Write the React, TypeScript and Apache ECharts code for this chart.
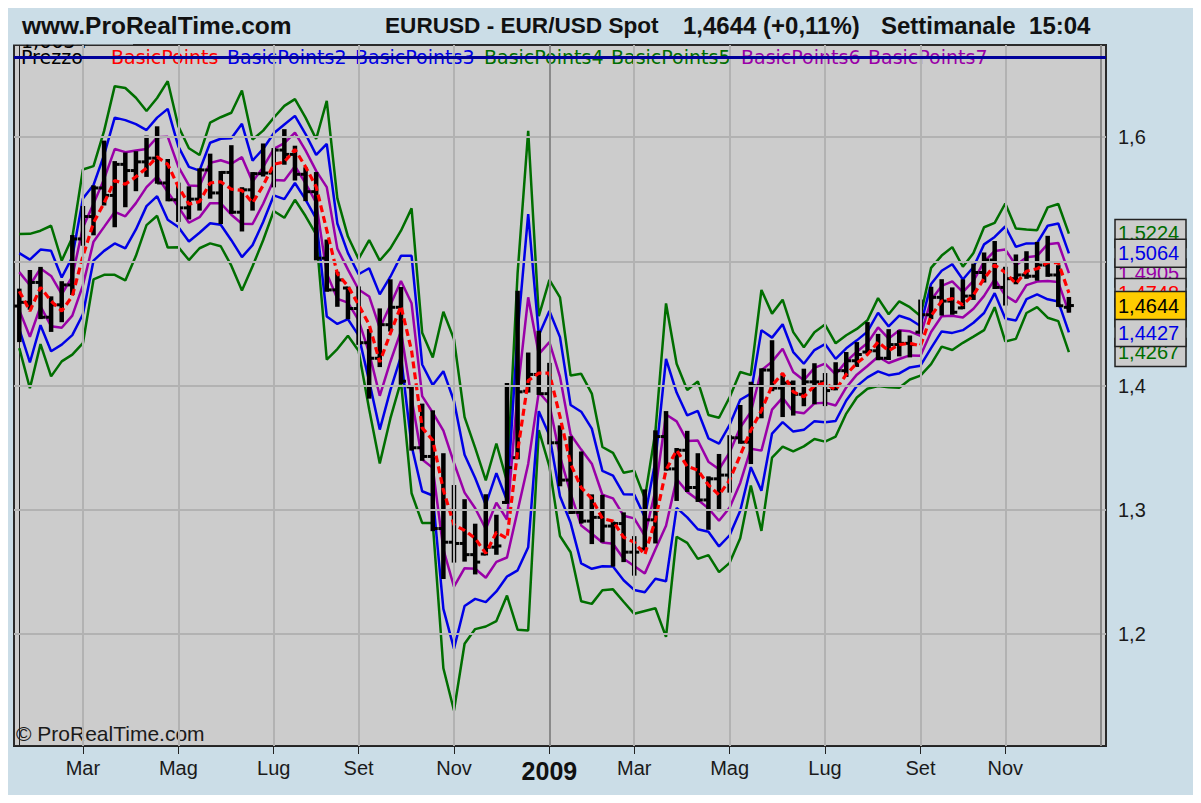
import React, { useEffect, useRef } from 'react';
import * as echarts from 'echarts';

// Weekly bars (week start, Monday)
const weeks: string[] = [
  '2008-01-21','2008-01-28','2008-02-04','2008-02-11','2008-02-18','2008-02-25','2008-03-03','2008-03-10','2008-03-17','2008-03-24',
  '2008-03-31','2008-04-07','2008-04-14','2008-04-21','2008-04-28','2008-05-05','2008-05-12','2008-05-19','2008-05-26','2008-06-02',
  '2008-06-09','2008-06-16','2008-06-23','2008-06-30','2008-07-07','2008-07-14','2008-07-21','2008-07-28','2008-08-04','2008-08-11',
  '2008-08-18','2008-08-25','2008-09-01','2008-09-08','2008-09-15','2008-09-22','2008-09-29','2008-10-06','2008-10-13','2008-10-20',
  '2008-10-27','2008-11-03','2008-11-10','2008-11-17','2008-11-24','2008-12-01','2008-12-08','2008-12-15','2008-12-22','2008-12-29',
  '2009-01-05','2009-01-12','2009-01-19','2009-01-26','2009-02-02','2009-02-09','2009-02-16','2009-02-23','2009-03-02','2009-03-09',
  '2009-03-16','2009-03-23','2009-03-30','2009-04-06','2009-04-13','2009-04-20','2009-04-27','2009-05-04','2009-05-11','2009-05-18',
  '2009-05-25','2009-06-01','2009-06-08','2009-06-15','2009-06-22','2009-06-29','2009-07-06','2009-07-13','2009-07-20','2009-07-27',
  '2009-08-03','2009-08-10','2009-08-17','2009-08-24','2009-08-31','2009-09-07','2009-09-14','2009-09-21','2009-09-28','2009-10-05',
  '2009-10-12','2009-10-19','2009-10-26','2009-11-02','2009-11-09','2009-11-16','2009-11-23','2009-11-30','2009-12-07','2009-12-14',
];

const open: number[] = [
  1.4640,1.4670,1.4830,1.4550,1.4650,1.4810,1.5180,1.5360,1.5590,1.5530,
  1.5780,1.5730,1.5800,1.5830,1.5630,1.5495,1.5430,1.5500,1.5735,1.5550,
  1.5715,1.5395,1.5575,1.5705,1.5710,1.5895,1.5860,1.5700,1.5560,1.5025,
  1.4770,1.4785,1.4620,1.4345,1.4220,1.4490,1.4630,1.3990,1.3500,1.3430,
  1.2850,1.2740,1.2730,1.2640,1.2645,1.2700,1.3060,1.3420,1.3955,1.4090,
  1.3935,1.3540,1.3240,1.2980,1.2910,1.2940,1.2870,1.2890,1.2660,1.2685,
  1.2920,1.3590,1.3330,1.3480,1.3180,1.3080,1.3250,1.3280,1.3580,1.3545,
  1.4000,1.4125,1.3980,1.4020,1.3930,1.4030,1.4030,1.3975,1.4120,1.4200,
  1.4270,1.4280,1.4220,1.4330,1.4340,1.4430,1.4570,1.4710,1.4680,1.4625,
  1.4720,1.4910,1.5010,1.4790,1.4860,1.4890,1.4880,1.4970,1.4890,1.4630,
];
const high: number[] = [
  1.4772,1.4922,1.4947,1.4710,1.4832,1.5203,1.5437,1.5603,1.5963,1.5798,
  1.5867,1.5878,1.6003,1.6078,1.5815,1.5625,1.5595,1.5740,1.5858,1.5718,
  1.5926,1.5588,1.5710,1.5940,1.5903,1.6055,1.5922,1.5748,1.5710,1.5167,
  1.4908,1.4788,1.4790,1.4447,1.4613,1.4847,1.4785,1.3995,1.3847,1.3793,
  1.3448,1.3192,1.3078,1.2881,1.3118,1.2953,1.4013,1.4755,1.4258,1.4433,
  1.4175,1.3672,1.3585,1.3462,1.3117,1.3113,1.2898,1.2972,1.2781,1.3157,
  1.3632,1.3787,1.3490,1.3628,1.3448,1.3262,1.3442,1.3593,1.3836,1.4023,
  1.4131,1.4357,1.4075,1.4033,1.4128,1.4172,1.4093,1.4180,1.4262,1.4342,
  1.4503,1.4408,1.4446,1.4437,1.4395,1.4684,1.4787,1.4848,1.4782,1.4847,
  1.4973,1.5063,1.5155,1.4948,1.5047,1.5073,1.5148,1.5197,1.4961,1.4705,
];
const low: number[] = [
  1.4358,1.4618,1.4543,1.4440,1.4518,1.4737,1.5133,1.5217,1.5457,1.5282,
  1.5443,1.5572,1.5687,1.5632,1.5491,1.5325,1.5345,1.5416,1.5512,1.5308,
  1.5390,1.5248,1.5416,1.5690,1.5603,1.5785,1.5658,1.5492,1.5016,1.4763,
  1.4642,1.4542,1.4336,1.3903,1.4157,1.4443,1.4021,1.3485,1.3403,1.2837,
  1.2452,1.2584,1.2592,1.2489,1.2642,1.2647,1.3057,1.3415,1.3952,1.3933,
  1.3535,1.3198,1.2975,1.2898,1.2733,1.2747,1.2552,1.2588,1.2479,1.2683,
  1.2738,1.3323,1.3080,1.3152,1.3072,1.2848,1.2998,1.3147,1.3540,1.3377,
  1.3745,1.3963,1.3755,1.3767,1.3842,1.3858,1.3843,1.3970,1.4078,1.4158,
  1.4267,1.4212,1.4214,1.4243,1.4235,1.4426,1.4543,1.4572,1.4578,1.4623,
  1.4697,1.4837,1.4785,1.4652,1.4823,1.4867,1.4852,1.4883,1.4641,1.4595,
];
const close: number[] = [
  1.4670,1.4830,1.4550,1.4650,1.4810,1.5180,1.5360,1.5590,1.5530,1.5780,
  1.5730,1.5800,1.5830,1.5630,1.5495,1.5430,1.5500,1.5735,1.5550,1.5715,
  1.5395,1.5575,1.5705,1.5710,1.5895,1.5860,1.5700,1.5560,1.5025,1.4770,
  1.4850,1.4620,1.4345,1.4220,1.4490,1.4630,1.4035,1.3500,1.3430,1.2850,
  1.2740,1.2730,1.2640,1.2580,1.2700,1.2710,1.3340,1.3950,1.4090,1.3935,
  1.3540,1.3240,1.2980,1.2910,1.2940,1.2870,1.2890,1.2660,1.2660,1.2920,
  1.3590,1.3330,1.3480,1.3180,1.3080,1.3250,1.3280,1.3580,1.3545,1.4000,
  1.4125,1.3980,1.4020,1.3930,1.4030,1.4030,1.3960,1.4120,1.4200,1.4250,
  1.4280,1.4220,1.4330,1.4340,1.4330,1.4570,1.4710,1.4680,1.4590,1.4720,
  1.4910,1.5010,1.4790,1.4860,1.4890,1.4880,1.4970,1.4890,1.4642,1.4644,
];

// BasicPoints (pivot, red dashed)
const pivot: number[] = [
  1.476,1.460,1.479,1.468,1.460,1.472,1.504,1.531,1.547,1.565,
  1.562,1.568,1.575,1.584,1.578,1.560,1.546,1.548,1.563,1.564,
  1.558,1.557,1.547,1.561,1.578,1.580,1.590,1.576,1.560,1.525,
  1.490,1.480,1.465,1.449,1.419,1.442,1.464,1.428,1.366,1.356,
  1.316,1.288,1.2835,1.277,1.265,1.282,1.277,1.347,1.404,1.410,
  1.410,1.375,1.337,1.318,1.309,1.293,1.291,1.278,1.274,1.264,
  1.292,1.332,1.348,1.335,1.332,1.320,1.312,1.324,1.344,1.364,
  1.380,1.400,1.410,1.395,1.391,1.400,1.402,1.3965,1.409,1.418,
  1.425,1.435,1.428,1.433,1.434,1.432,1.456,1.468,1.470,1.465,
  1.473,1.486,1.497,1.491,1.482,1.492,1.494,1.499,1.499,1.4746,
];
// spacing between the envelope lines
const bandStep: number[] = [
  0.0153,0.0207,0.0152,0.0202,0.0135,0.0157,0.0233,0.0152,0.0193,0.0253,
  0.0258,0.0212,0.0153,0.0158,0.0223,0.0162,0.0150,0.0125,0.0162,0.0173,
  0.0205,0.0268,0.0170,0.0147,0.0125,0.0150,0.0135,0.0132,0.0128,0.0347,
  0.0202,0.0133,0.0123,0.0227,0.0272,0.0228,0.0202,0.0382,0.0255,0.0222,
  0.0478,0.0498,0.0304,0.0243,0.0196,0.0238,0.0153,0.0478,0.0670,0.0153,
  0.0250,0.0320,0.0237,0.0305,0.0282,0.0192,0.0183,0.0173,0.0192,0.0151,
  0.0237,0.0447,0.0232,0.0205,0.0238,0.0188,0.0207,0.0222,0.0223,0.0148,
  0.0323,0.0193,0.0197,0.0160,0.0133,0.0143,0.0157,0.0125,0.0105,0.0092,
  0.0092,0.0118,0.0098,0.0116,0.0097,0.0080,0.0129,0.0122,0.0138,0.0102,
  0.0112,0.0138,0.0113,0.0185,0.0148,0.0112,0.0103,0.0148,0.0157,0.0159,
];

const monthTickIdx: number[] = [6, 15, 24, 32, 41, 50, 58, 67, 76, 85, 93];
const monthTickLabels: string[] = ['Mar', 'Mag', 'Lug', 'Set', 'Nov', '2009', 'Mar', 'Mag', 'Lug', 'Set', 'Nov'];
const yearLineIdx: number[] = [50, 102];
const priceTicks: number[] = [1.2, 1.3, 1.4, 1.5, 1.6];
const prezzoLevel = 1.664;

// last-value labels on the right scale
const lastLabelValues: number[] = [1.5224, 1.4267, 1.4905, 1.4587, 1.4748, 1.5064, 1.4427, 1.4644];
const lastLabelColors: string[] = ['#006e00', '#006e00', '#9a00a8', '#9a00a8', '#ff0000', '#0000e6', '#0000e6', '#000000'];

const bandDefs = [
  { name: 'BasicPoints4', k: 3, color: '#006e00' },
  { name: 'BasicPoints5', k: -3, color: '#006e00' },
  { name: 'BasicPoints2', k: 2, color: '#0000e6' },
  { name: 'BasicPoints3', k: -2, color: '#0000e6' },
  { name: 'BasicPoints6', k: 1, color: '#9a00a8' },
  { name: 'BasicPoints7', k: -1, color: '#9a00a8' },
];

const legendItems = [
  { text: 'Prezzo', x: 13, color: '#000000' },
  { text: 'BasicPoints', x: 103, color: '#ff0000' },
  { text: 'BasicPoints2', x: 219, color: '#0000e6' },
  { text: 'BasicPoints3', x: 347, color: '#0000e6' },
  { text: 'BasicPoints4', x: 476, color: '#006e00' },
  { text: 'BasicPoints5', x: 603, color: '#006e00' },
  { text: 'BasicPoints6', x: 733, color: '#9a00a8' },
  { text: 'BasicPoints7', x: 860, color: '#9a00a8' },
];

const BG = '#cbdde7';
const Y_MIN = 1.110056;
const Y_MAX = 1.674014;

function txt(text: string, x: number, y: number, font: string, fill: string, z: number, align = 'left') {
  return {
    type: 'text', x, y, z, silent: true,
    style: { text, fill, font, textAlign: align, align, textVerticalAlign: 'middle', verticalAlign: 'middle' },
  };
}

export default function App() {
  const ref = useRef<HTMLDivElement>(null);
  useEffect(() => {
    const chart = echarts.init(ref.current as HTMLDivElement, undefined, { renderer: 'svg' });
    const ohlcData = weeks.map((_, i) => [i, open[i], high[i], low[i], close[i]]);

    const bandSeries = bandDefs.map((b) => ({
      name: b.name,
      type: 'line',
      z: 2,
      symbol: 'none',
      clip: true,
      data: weeks.map((_, i) => [i, +(pivot[i] + b.k * bandStep[i]).toFixed(4)]),
      lineStyle: { color: b.color, width: 2.5 },
    }));

    const gridLines: any[] = [];
    priceTicks.forEach((p) => gridLines.push({ yAxis: p, lineStyle: { color: '#b2b2b2', width: 2, type: 'solid' } }));
    monthTickIdx.forEach((idx) => {
      if (yearLineIdx.indexOf(idx) < 0) gridLines.push({ xAxis: idx, lineStyle: { color: '#b2b2b2', width: 2, type: 'solid' } });
    });
    yearLineIdx.forEach((idx) => gridLines.push({ xAxis: idx, lineStyle: { color: '#8a8a8a', width: 2, type: 'solid' } }));

    const option: any = {
      animation: false,
      backgroundColor: BG,
      grid: { left: 6, top: 37, width: 1092, height: 701, show: true, backgroundColor: '#cccccc', borderColor: '#2a2a2a', borderWidth: 2 },
      xAxis: {
        type: 'value', min: -0.5, max: 102.5,
        axisLine: { show: true, onZero: false, lineStyle: { color: '#222', width: 1 } },
        axisTick: { show: true, customValues: monthTickIdx, length: 8, lineStyle: { color: '#222', width: 1 } },
        axisLabel: {
          customValues: monthTickIdx, margin: 12, fontSize: 20, color: '#1a1a1a', fontFamily: 'Liberation Sans',
          formatter: (v: number) => {
            const k = monthTickIdx.indexOf(Math.round(v));
            if (k < 0) return '';
            const t = monthTickLabels[k];
            return t === '2009' ? '{y|2009}' : t;
          },
          rich: { y: { fontSize: 25, fontWeight: 'bold', color: '#111', fontFamily: 'Liberation Sans' } },
        },
        splitLine: { show: false },
      },
      yAxis: {
        type: 'value', position: 'right', min: Y_MIN, max: Y_MAX,
        axisLine: { show: true, lineStyle: { color: '#222', width: 1 } },
        axisTick: { show: true, customValues: priceTicks, length: 8, lineStyle: { color: '#222', width: 1 } },
        axisLabel: {
          customValues: priceTicks, margin: 12, fontSize: 20, color: '#1a1a1a', fontFamily: 'Liberation Sans',
          formatter: (v: number) => v.toFixed(1).replace('.', ','),
        },
        splitLine: { show: false },
      },
      series: [
        {
          name: 'grid', type: 'line', z: 1, data: [], silent: true,
          markLine: { silent: true, precision: 4, symbol: ['none', 'none'], label: { show: false }, animation: false, data: gridLines },
        },
        ...bandSeries,
        {
          name: 'Prezzo', type: 'custom', z: 3, clip: true,
          data: ohlcData,
          encode: { x: 0, y: [1, 2, 3, 4] },
          renderItem: (params: any, api: any) => {
            const x = api.value(0);
            const o = api.coord([x, api.value(1)]);
            const h = api.coord([x, api.value(2)]);
            const l = api.coord([x, api.value(3)]);
            const c = api.coord([x, api.value(4)]);
            const st = { stroke: '#000000', lineWidth: 4.5 };
            return {
              type: 'group',
              children: [
                { type: 'line', shape: { x1: h[0], y1: h[1] - 1, x2: l[0], y2: l[1] + 1 }, style: st },
                { type: 'line', shape: { x1: o[0] - 5, y1: o[1], x2: o[0], y2: o[1] }, style: { stroke: '#000', lineWidth: 3 } },
                { type: 'line', shape: { x1: c[0], y1: c[1], x2: c[0] + 5, y2: c[1] }, style: { stroke: '#000', lineWidth: 3 } },
              ],
            };
          },
        },
        {
          name: 'BasicPoints', type: 'line', z: 4, symbol: 'none', clip: true,
          data: weeks.map((_, i) => [i, pivot[i]]),
          lineStyle: { color: '#ff0000', width: 3.2, type: [7, 4] },
        },
        {
          name: 'PrezzoLevel', type: 'line', z: 5, data: [], silent: true,
          markLine: {
            silent: true, precision: 4, symbol: ['none', 'none'], label: { show: false }, animation: false,
            data: [{ yAxis: prezzoLevel, lineStyle: { color: '#00009a', width: 3, type: 'solid' } }],
          },
        },
      ],
    };
    chart.setOption(option);

    const graphics: any[] = [];
    const HF = (s: number) => `bold ${s}px "Liberation Sans", Arial, sans-serif`;
    graphics.push(txt('www.ProRealTime.com', 14, 17, HF(24.5), '#111', 50));
    graphics.push(txt('EURUSD - EUR/USD Spot', 377, 17, HF(22.6), '#111', 50));
    graphics.push(txt('1,4644 (+0,11%)', 675, 17, HF(24), '#111', 50));
    graphics.push(txt('Settimanale  15:04', 873, 17, HF(24), '#111', 50));
    // partially hidden level label above plot
    graphics.push(txt('1,6634', 13, 33, '19px "DejaVu Sans", sans-serif', '#000', 1));
    graphics.push({ type: 'rect', z: 2, silent: true, shape: { x: 5, y: 26, width: 120, height: 10.5 }, style: { fill: BG } });
    legendItems.forEach((it) => graphics.push(txt(it.text, it.x, 49, '19px "DejaVu Sans", sans-serif', it.color, 1)));
    graphics.push(txt('\u00A9 ProRealTime.com', 8, 725, '21px "Liberation Sans", Arial, sans-serif', '#1a1a1a', 1));

    lastLabelValues.forEach((v, k) => {
      const y = chart.convertToPixel({ yAxisIndex: 0 }, v) as number;
      const isPrice = k === lastLabelValues.length - 1;
      graphics.push({
        type: 'rect', z: 60 + k * 2, silent: true,
        shape: { x: 1107, y: y - 14, width: 71, height: 28 },
        style: { fill: isPrice ? '#ffcc00' : '#cccccc', stroke: '#222', lineWidth: 1.5 },
      });
      graphics.push({
        type: 'text', z: 61 + k * 2, silent: true, x: 1110, y,
        style: {
          text: v.toFixed(4).replace('.', ','), fill: lastLabelColors[k],
          font: '20px "Liberation Sans", Arial, sans-serif', textVerticalAlign: 'middle', verticalAlign: 'middle',
        },
      });
    });
    chart.setOption({ graphic: graphics });

    return () => chart.dispose();
  }, []);
  return <div ref={ref} style={{ width: 1185, height: 787, background: BG }} />;
}
